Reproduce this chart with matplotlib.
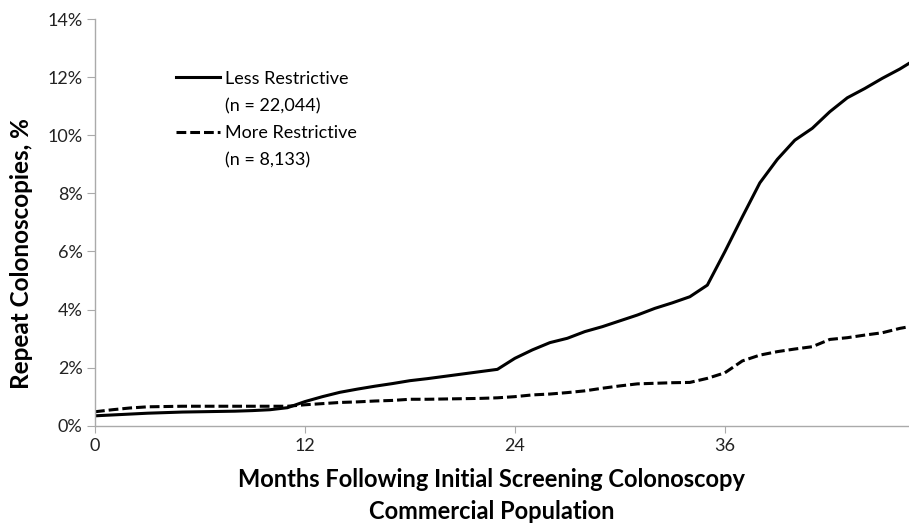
import matplotlib.pyplot as plt
from matplotlib.lines import Line2D
from matplotlib.ticker import FuncFormatter

# (months 0..47, percent)
months = list(range(48))
less_restrictive = [0.34, 0.37, 0.40, 0.43, 0.45, 0.47, 0.48, 0.49, 0.50, 0.52,
                    0.55, 0.62, 0.83, 1.00, 1.15, 1.26, 1.36, 1.45, 1.55, 1.62,
                    1.70, 1.78, 1.86, 1.94, 2.32, 2.61, 2.86, 3.01, 3.24, 3.41,
                    3.61, 3.81, 4.04, 4.23, 4.44, 4.84, 5.99, 7.19, 8.36, 9.17,
                    9.83, 10.24, 10.81, 11.29, 11.61, 11.96, 12.28, 12.65]
more_restrictive = [0.48, 0.55, 0.61, 0.65, 0.66, 0.67, 0.67, 0.67, 0.67, 0.67,
                    0.67, 0.67, 0.72, 0.76, 0.80, 0.82, 0.85, 0.87, 0.91, 0.91,
                    0.92, 0.93, 0.94, 0.96, 1.00, 1.06, 1.09, 1.14, 1.20, 1.29,
                    1.37, 1.44, 1.46, 1.48, 1.49, 1.63, 1.82, 2.23, 2.43, 2.55,
                    2.64, 2.72, 2.97, 3.03, 3.12, 3.20, 3.35, 3.46]
series_names = ['Less Restrictive', 'More Restrictive']
series_n = ['(n = 22,044)', '(n = 8,133)']
x_ticks = [0, 12, 24, 36]
y_ticks = [0, 2, 4, 6, 8, 10, 12, 14]

plt.rcParams['font.family'] = ['Lato', 'DejaVu Sans']

fig = plt.figure(figsize=(9.09, 5.24), dpi=100)
ax = fig.add_axes([0.1045, 0.1876, 0.895, 0.776])

l1, = ax.plot(months, less_restrictive, color='black', linewidth=2.2)
l2, = ax.plot(months, more_restrictive, color='black', linewidth=2.2,
              linestyle=(0, (3.2, 1.3)))

ax.set_xlim(0, 46.5)
ax.set_ylim(0, 14)
ax.set_xticks(x_ticks)
ax.set_yticks(y_ticks)
ax.yaxis.set_major_formatter(FuncFormatter(lambda v, p: f"{v:.0f}%"))

for s in ['top', 'right']:
    ax.spines[s].set_visible(False)
for s in ['left', 'bottom']:
    ax.spines[s].set_color('#aaaaaa')
    ax.spines[s].set_linewidth(1)
ax.tick_params(axis='both', colors='#aaaaaa', labelcolor='#222222', labelsize=13)
ax.tick_params(axis='y', length=6, pad=3)
ax.tick_params(axis='x', length=5, pad=4)

# axis titles placed as figure text
fig.text(0.024, 0.517, 'Repeat Colonoscopies, %', rotation=90, fontsize=17.5,
         fontweight='bold', ha='center', va='center')
fig.text(0.541, 0.084, 'Months Following Initial Screening Colonoscopy',
         fontsize=17, fontweight='bold', ha='center', va='center')
fig.text(0.541, 0.023, 'Commercial Population',
         fontsize=17, fontweight='bold', ha='center', va='center')

# legend: name next to the line, sample size on the row below
blank = Line2D([], [], linestyle='none')
ax.legend([l1, blank, l2, blank],
          [series_names[0], series_n[0], series_names[1], series_n[1]],
          loc='upper left', bbox_to_anchor=(0.079, 0.913), frameon=False,
          fontsize=13, handlelength=2.45, handletextpad=0.3, labelspacing=0.62)

plt.savefig('out.png', dpi=100)
